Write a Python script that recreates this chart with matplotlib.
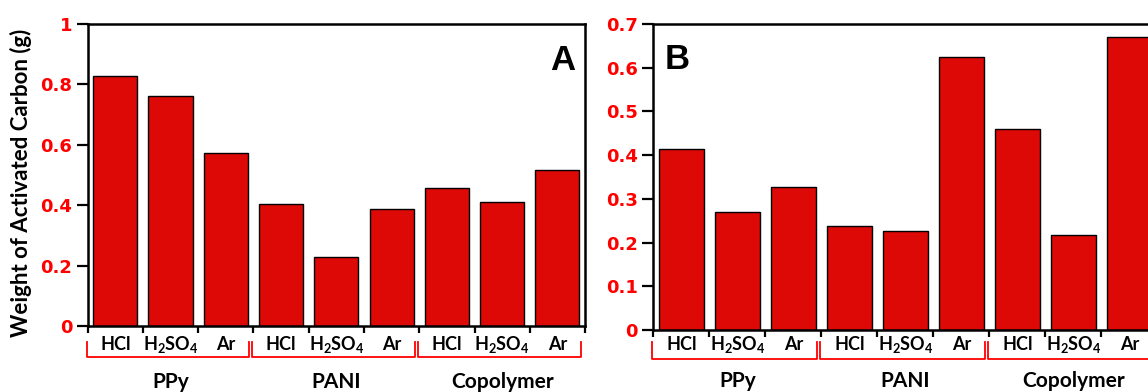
import matplotlib
matplotlib.use('Agg')
import matplotlib.pyplot as plt
import matplotlib.transforms as mtransforms
from matplotlib.ticker import FixedLocator, FuncFormatter
import numpy as np

# ---- data ----
groups = ['PPy', 'PANI', 'Copolymer']
treatments = ['HCl', r'$\mathrm{H_2SO_4}$', 'Ar']
ppy_a = [0.828, 0.761, 0.572]
pani_a = [0.404, 0.228, 0.387]
copo_a = [0.457, 0.409, 0.516]
ppy_b = [0.414, 0.269, 0.327]
pani_b = [0.238, 0.226, 0.625]
copo_b = [0.460, 0.218, 0.670]
yticks_a = [0, 0.2, 0.4, 0.6, 0.8, 1.0]
yticks_b = [0, 0.1, 0.2, 0.3, 0.4, 0.5, 0.6, 0.7]
ylabel = 'Weight of Activated Carbon (g)'

FONT = 'Lato'
plt.rcParams['mathtext.fontset'] = 'custom'
plt.rcParams['mathtext.rm'] = FONT + ':bold'
plt.rcParams['mathtext.it'] = FONT + ':bold'
plt.rcParams['mathtext.bf'] = FONT + ':bold'
plt.rcParams['mathtext.default'] = 'rm'

BAR = '#dc0907'
RED = '#ff0000'

fig = plt.figure(figsize=(11.48, 3.92), dpi=100)
axA = fig.add_axes([0.0764, 0.1684, 0.4332, 0.771])
axB = fig.add_axes([0.5691, 0.158, 0.439, 0.7806])


def draw(ax, vals, yticks, ymax, lab_y, br_y, br_top, grp_y, letter, lx, ly):
    n = len(vals)
    x = np.arange(n)
    ax.bar(x, vals, width=0.8, color=BAR, edgecolor='black', linewidth=1.0, zorder=2)
    ax.set_xlim(-0.5, n - 0.5)
    ax.set_ylim(0, ymax)
    for s in ax.spines.values():
        s.set_linewidth(1.8)
    ax.xaxis.set_major_locator(FixedLocator(np.arange(-0.5, n, 1.0)))
    ax.set_xticklabels([])
    ax.tick_params(axis='x', which='major', direction='out', length=5, width=1.6)
    ax.set_yticks(yticks)
    ax.yaxis.set_major_formatter(FuncFormatter(lambda v, p: '%g' % v))
    ax.tick_params(axis='y', direction='out', length=8, width=1.6, pad=3,
                   labelcolor=RED)
    for t in ax.get_yticklabels():
        t.set_fontfamily('DejaVu Sans')
        t.set_fontweight('heavy')
        t.set_fontsize(13)
    trans = mtransforms.blended_transform_factory(ax.transData, ax.transAxes)
    for i in range(n):
        ax.text(i, lab_y, treatments[i % 3], transform=trans, ha='center', va='baseline',
                fontsize=13, fontweight='bold', family=FONT, clip_on=False)
    for g, name in enumerate(groups):
        x0 = 3 * g - 0.5 - 0.02
        x1 = 3 * g + 2.5 - 0.08
        ax.plot([x0, x0, x1, x1], [br_top, br_y, br_y, br_top], transform=trans,
                color=RED, linewidth=1.3, clip_on=False, solid_joinstyle='round')
        ax.text(3 * g + 1, grp_y, name, transform=trans, ha='center', va='baseline',
                fontsize=15, fontweight='bold', family=FONT, clip_on=False)
    ax.text(lx, ly, letter, transform=ax.transAxes, ha='center', va='baseline',
            fontsize=25, fontweight='bold', family='Liberation Sans')


vals_a = ppy_a + pani_a + copo_a
vals_b = ppy_b + pani_b + copo_b
draw(axA, vals_a, yticks_a, 1.0, -0.0794, -0.1026, -0.0529, -0.205, 'A', 0.955, 0.847)
draw(axB, vals_b, yticks_b, 0.7, -0.0654, -0.0948, -0.0382, -0.186, 'B', 0.047, 0.853)

axA.set_ylabel(ylabel, fontsize=16, fontweight='bold', family=FONT)
axA.yaxis.set_label_coords(-0.112, 0.473)

fig.savefig('out.png', dpi=100)
